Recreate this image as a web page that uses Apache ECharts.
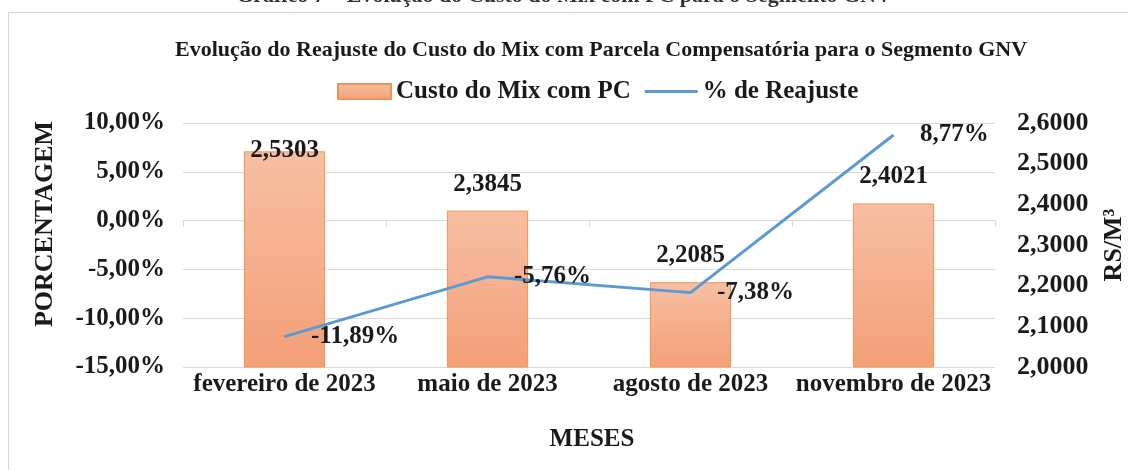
<!DOCTYPE html>
<html>
<head>
<meta charset="utf-8">
<script src="https://cdn.jsdelivr.net/npm/echarts@6/dist/echarts.min.js"></script>
<style>
  html, body { margin: 0; padding: 0; background: #fff; }
  #chart { width: 1128px; height: 470px; }
</style>
</head>
<body>
<div id="chart"></div>
<script>
// chart data
const months = ['fevereiro de 2023', 'maio de 2023', 'agosto de 2023', 'novembro de 2023'];
const mixCost = [2.5303, 2.3845, 2.2085, 2.4021];   // R$/m³
const adjustPct = [-11.89, -5.76, -7.38, 8.77];      // %

const pctTicks = [-15, -10, -5, 0, 5, 10];
const costTicks = [2.0, 2.1, 2.2, 2.3, 2.4, 2.5, 2.6];

const serif = '"Liberation Serif", "Times New Roman", serif';
const ink = '#1a1a1a';
const comma = (v, d) => v.toFixed(d).replace('.', ',');

const chart = echarts.init(document.getElementById('chart'));

// first bar label sits on the bar top in the original
const barData = mixCost.map((v, i) => i === 0 ? { value: v, label: { offset: [0, 26] } } : v);

const option = {
    animation: false,
    backgroundColor: '#fff',
    title: {
        text: 'Evolução do Reajuste do Custo do Mix com Parcela Compensatória para o Segmento GNV',
        left: 170,
        top: 34,
        textStyle: { fontFamily: serif, fontWeight: 'bold', fontSize: 22, color: ink }
    },
    graphic: [
        {
            type: 'rect',
            shape: { x: 8.5, y: 12.5, width: 1200, height: 600 },
            style: { fill: 'none', stroke: '#d4d4d4', lineWidth: 1 },
            silent: true
        },
        {
            type: 'text',
            left: 'center',
            top: -15,
            style: {
                text: 'Gráfico 7 – Evolução do Custo do Mix com PC para o Segmento GNV',
                font: 'bold 22px ' + serif,
                fill: '#333'
            }
        }
    ],
    legend: {
        top: 74,
        left: 332,
        itemWidth: 53,
        itemHeight: 15,
        itemGap: 14,
        textStyle: { fontFamily: serif, fontWeight: 'bold', fontSize: 25, color: ink },
        data: [
            { name: 'Custo do Mix com PC', icon: 'rect' },
            { name: '% de Reajuste', icon: 'path://M0,0 H100 V6 H0 Z' }
        ]
    },
    grid: { left: 183, right: 133, top: 123, bottom: 103, outerBoundsMode: 'none', containLabel: false },
    xAxis: [
        {
            type: 'category',
            data: months,
            name: 'MESES',
            nameLocation: 'middle',
            nameGap: 60,
            nameTextStyle: { fontFamily: serif, fontWeight: 'bold', fontSize: 25, color: ink, padding: [0, 0, 0, 6] },
            axisLine: { show: false, onZero: false },
            axisTick: { show: false },
            axisLabel: { interval: 0, margin: 5, fontFamily: serif, fontWeight: 'bold', fontSize: 25, color: ink }
        },
        {
            // horizontal axis crossing at 0 % with its small ticks
            type: 'category',
            data: months,
            position: 'bottom',
            axisLine: { show: true, onZero: true, onZeroAxisIndex: 0, lineStyle: { color: '#d9d9d9' } },
            axisTick: { show: true, length: 6, lineStyle: { color: '#d9d9d9' } },
            axisLabel: { show: false },
            splitLine: { show: false }
        }
    ],
    yAxis: [
        {
            type: 'value',
            min: pctTicks[0],
            max: pctTicks[pctTicks.length - 1],
            interval: 5,
            name: 'PORCENTAGEM',
            nameLocation: 'middle',
            nameRotate: 90,
            nameGap: 125,
            nameTextStyle: { fontFamily: serif, fontWeight: 'bold', fontSize: 26, color: ink, padding: [0, 0, 0, 42] },
            axisLine: { show: false },
            axisTick: { show: false },
            axisLabel: {
                margin: 18,
                fontFamily: serif, fontWeight: 'bold', fontSize: 25, color: ink,
                formatter: v => comma(v, 2) + '%'
            },
            splitLine: { lineStyle: { color: '#d9d9d9', width: 1 } }
        },
        {
            type: 'value',
            min: costTicks[0],
            max: costTicks[costTicks.length - 1],
            interval: 0.1,
            name: 'RS/M³',
            nameLocation: 'middle',
            nameRotate: 90,
            nameGap: 106,
            nameTextStyle: { fontFamily: serif, fontWeight: 'bold', fontSize: 26, color: ink },
            axisLine: { show: false },
            axisTick: { show: false },
            axisLabel: {
                margin: 22,
                fontFamily: serif, fontWeight: 'bold', fontSize: 26, color: ink,
                formatter: v => comma(v, 4)
            },
            splitLine: { show: false }
        }
    ],
    series: [
        {
            name: 'Custo do Mix com PC',
            type: 'bar',
            xAxisIndex: 0,
            yAxisIndex: 1,
            barWidth: '40%',
            data: barData,
            itemStyle: {
                color: new echarts.graphic.LinearGradient(0, 0, 0, 1, [
                    { offset: 0, color: '#f7bfa3' },
                    { offset: 1, color: '#f49f78' }
                ]),
                borderColor: '#ee9457',
                borderWidth: 1
            },
            label: {
                show: true,
                position: 'top',
                distance: 14,
                fontFamily: serif, fontWeight: 'bold', fontSize: 25, color: ink,
                formatter: p => comma(p.value, 4)
            }
        },
        {
            name: '% de Reajuste',
            type: 'line',
            xAxisIndex: 0,
            yAxisIndex: 0,
            data: adjustPct,
            symbol: 'circle',
            symbolSize: 1,
            lineStyle: { color: '#5b9bd5', width: 3 },
            itemStyle: { color: '#5b9bd5' },
            label: {
                show: true,
                position: 'right',
                distance: 26,
                fontFamily: serif, fontWeight: 'bold', fontSize: 25, color: ink,
                formatter: p => comma(p.value, 2) + '%'
            }
        }
    ]
};

option && chart.setOption(option);
</script>
</body>
</html>
